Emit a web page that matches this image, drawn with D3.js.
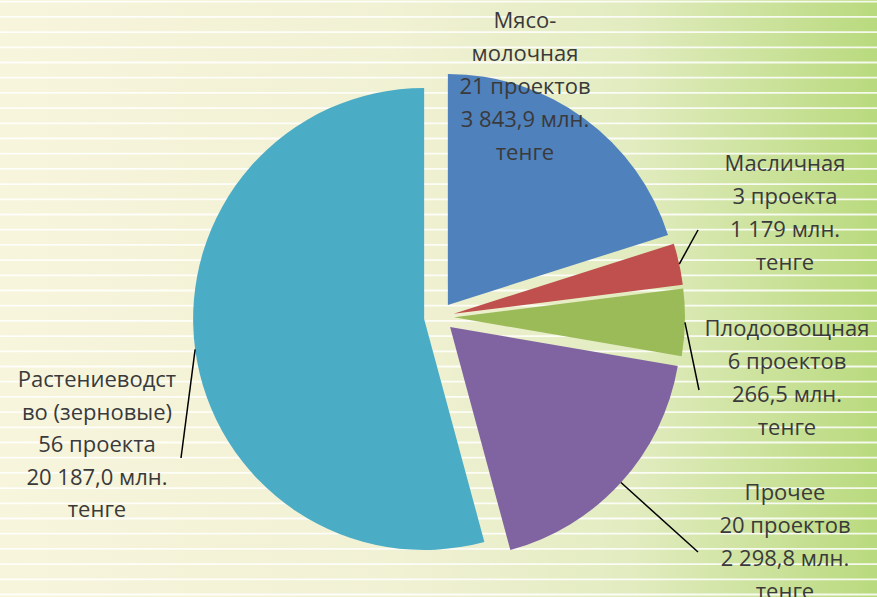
<!DOCTYPE html>
<html>
<head>
<meta charset="utf-8">
<script src="https://cdn.jsdelivr.net/npm/d3@7"></script>
<style>
  html, body { margin: 0; padding: 0; background: #f6f4da; }
  svg { display: block; }
</style>
</head>
<body>
<svg id="chart" width="877" height="597"></svg>
<script>
// data
const categories = ["Мясо-молочная", "Масличная", "Плодоовощная", "Прочее", "Растениеводство (зерновые)"];
const nameLines = [["Мясо-", "молочная"], ["Масличная"], ["Плодоовощная"], ["Прочее"], ["Растениеводст", "во (зерновые)"]];
// slice shares, % (measured from the slice angles)
const shares = [20.1, 2.9, 4.7, 18.1, 54.2];
const projects = [21, 3, 6, 20, 56];
const projectWords = ["проектов", "проекта", "проектов", "проектов", "проекта"];
const amounts = ["3 843,9", "1 179", "266,5", "2 298,8", "20 187,0"];
const colors = ["#4f81bd", "#c0504d", "#9bbb59", "#8064a2", "#4bacc6"];

const width = 877, height = 597;
const cx = 439, cy = 317, radius = 231, explode = 15;

// label placement: centre x, first baseline, line step, leader end (null = no leader)
const labelPos = [
    {x: 525, y: 28, step: 33, end: null},
    {x: 785, y: 171, step: 33, end: [698, 230]},
    {x: 787, y: 336, step: 33, end: [699, 390]},
    {x: 785, y: 500, step: 33, end: [698, 552]},
    {x: 97, y: 387, step: 32.5, end: [181, 458]}
];

const svg = d3.select('#chart');

// background: cream to green gradient with thin white stripes
const defs = svg.append('defs');
const grad = defs.append('linearGradient')
    .attr('id', 'bg')
    .attr('x1', '0%').attr('x2', '100%').attr('y1', '0%').attr('y2', '0%');
grad.append('stop').attr('offset', '0%').attr('stop-color', '#f7f5dc');
grad.append('stop').attr('offset', '45%').attr('stop-color', '#f1f1d4');
grad.append('stop').attr('offset', '72%').attr('stop-color', '#e2ecc0');
grad.append('stop').attr('offset', '100%').attr('stop-color', '#b9da7e');

svg.append('rect')
    .attr('width', width)
    .attr('height', height)
    .attr('fill', 'url(#bg)');

const stripeY = d3.range(1.7, height, 15.2);
svg.append('g')
    .selectAll('line')
    .data(stripeY)
    .enter()
    .append('line')
    .attr('x1', 0)
    .attr('x2', width)
    .attr('y1', d => d)
    .attr('y2', d => d)
    .attr('stroke', '#ffffff')
    .attr('stroke-opacity', 0.85)
    .attr('stroke-width', 1.8);

// pie
const pie = d3.pie().sort(null).value(d => d);
const arcs = pie(shares);
const arc = d3.arc().innerRadius(0).outerRadius(radius);

function offset(d) {
    const a = (d.startAngle + d.endAngle) / 2;
    return [cx + explode * Math.sin(a), cy - explode * Math.cos(a)];
}

svg.append('g')
    .selectAll('path')
    .data(arcs)
    .enter()
    .append('path')
    .attr('transform', d => `translate(${offset(d)})`)
    .attr('d', arc)
    .attr('fill', (d, i) => colors[i]);

// leader lines from the arc edge to the labels
const edge = d3.arc().innerRadius(radius).outerRadius(radius);
svg.append('g')
    .selectAll('line')
    .data(arcs.filter((d, i) => labelPos[i].end))
    .enter()
    .append('line')
    .attr('x1', d => offset(d)[0] + edge.centroid(d)[0])
    .attr('y1', d => offset(d)[1] + edge.centroid(d)[1])
    .attr('x2', d => labelPos[d.index].end[0])
    .attr('y2', d => labelPos[d.index].end[1])
    .attr('stroke', '#000000')
    .attr('stroke-width', 1.5);

// labels
const labels = svg.append('g')
    .selectAll('text')
    .data(arcs)
    .enter()
    .append('text')
    .attr('text-anchor', 'middle')
    .attr('font-family', '"Open Sans", sans-serif')
    .attr('font-size', 22)
    .attr('fill', '#3a3a3a');

labels.each(function(d, i) {
    const lines = nameLines[i].concat([
        `${projects[i]} ${projectWords[i]}`,
        `${amounts[i]} млн.`,
        'тенге'
    ]);
    const p = labelPos[i];
    d3.select(this)
        .selectAll('tspan')
        .data(lines)
        .enter()
        .append('tspan')
        .attr('x', p.x)
        .attr('y', (l, k) => p.y + k * p.step)
        .text(l => l);
});
</script>
</body>
</html>
